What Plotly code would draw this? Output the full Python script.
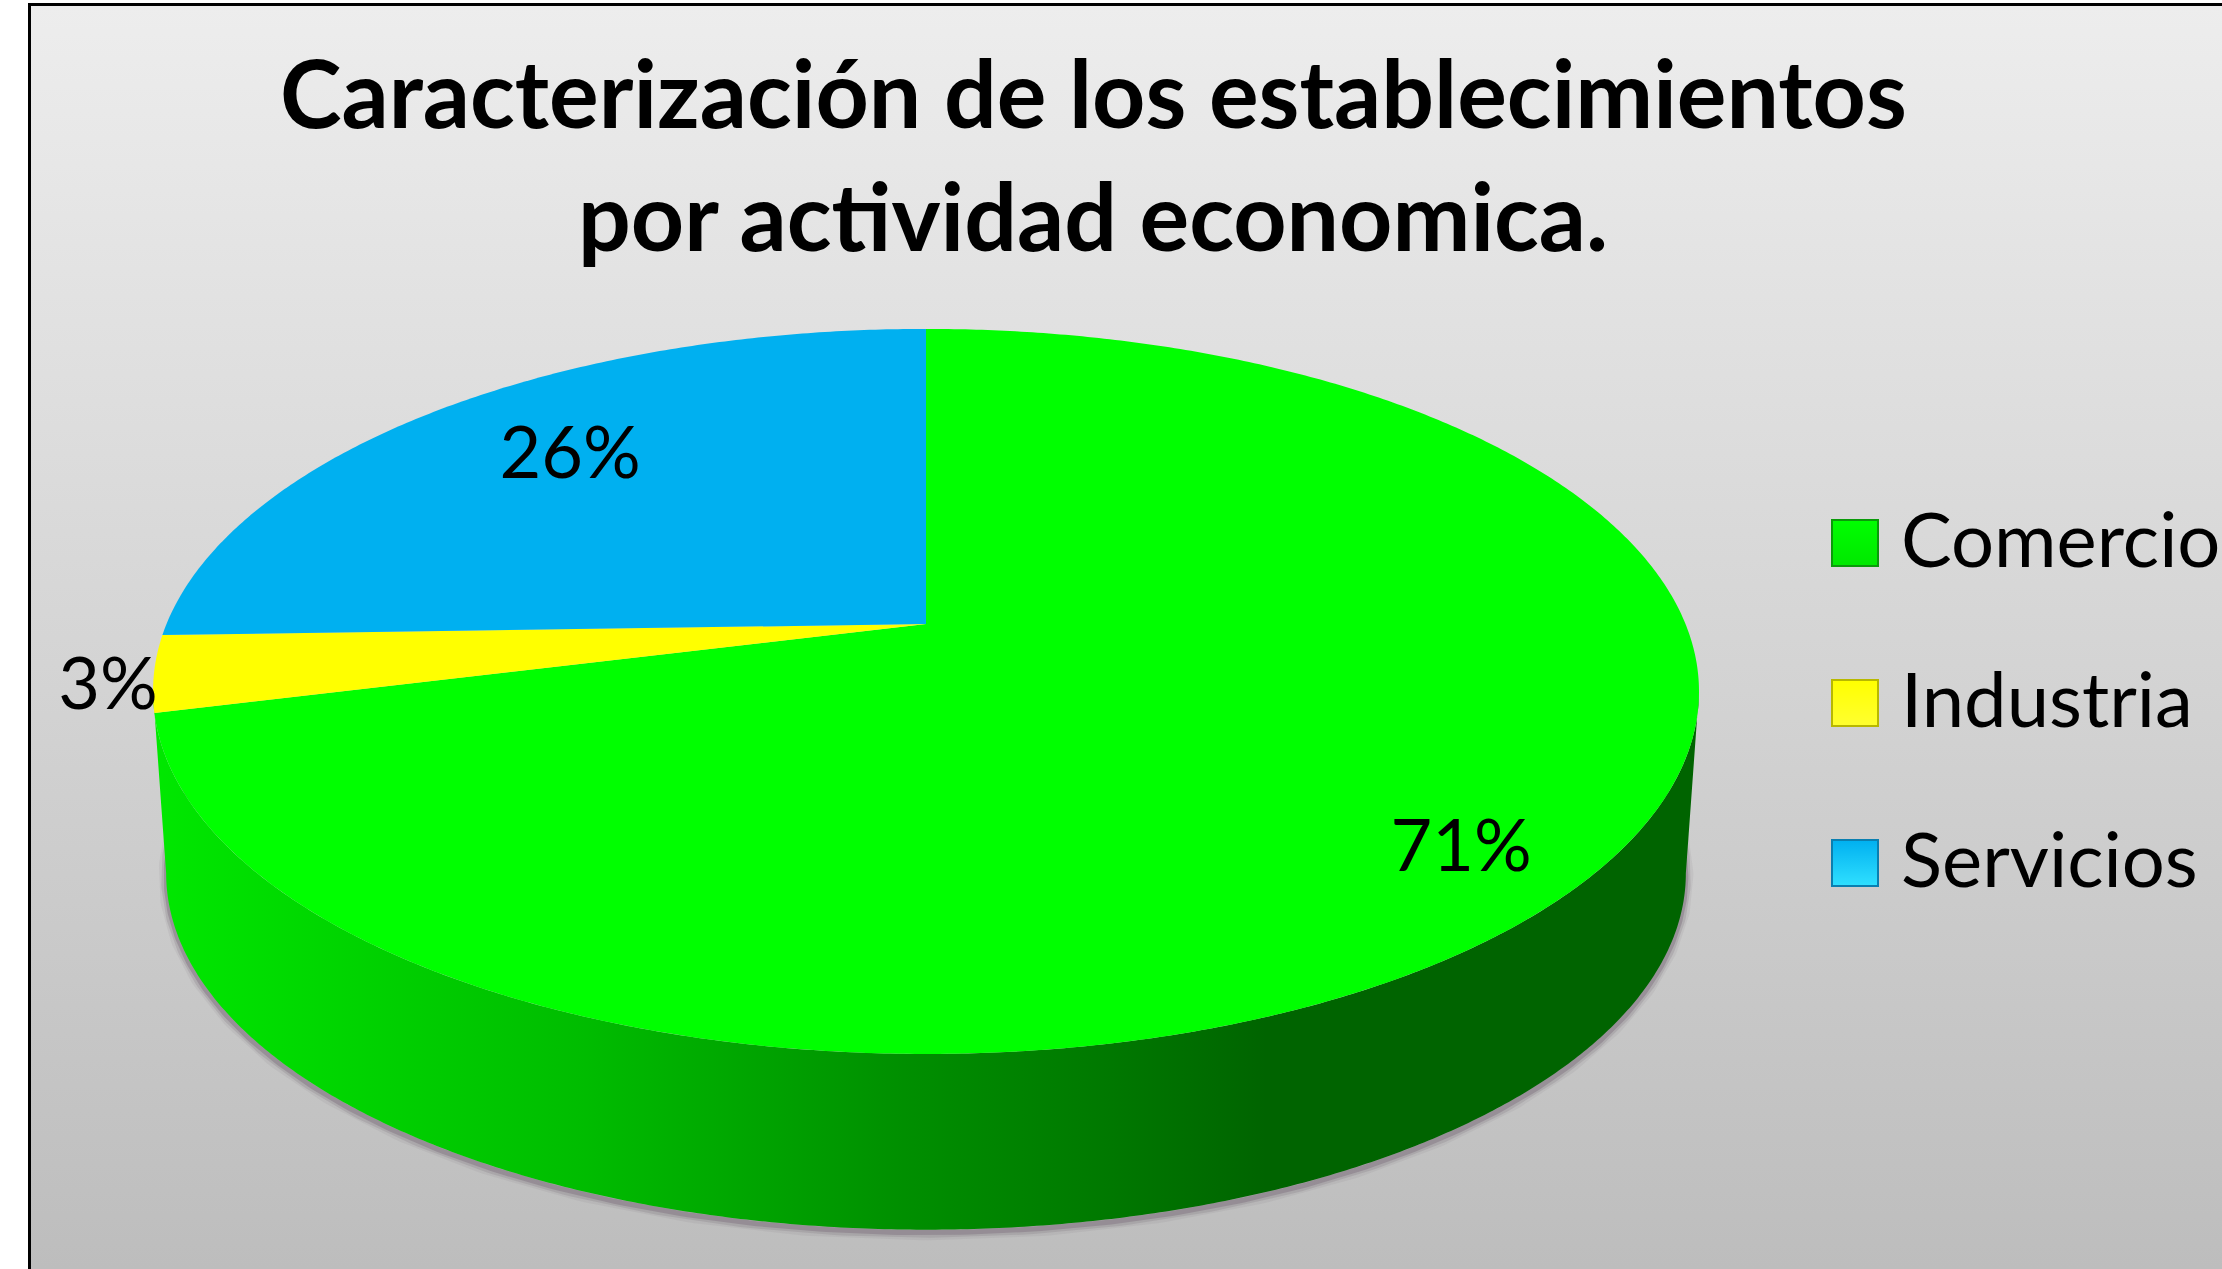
import numpy as np
import plotly.graph_objects as go

# chart data, clockwise from 12 o'clock
categories = ['Comercio', 'Industria', 'Servicios']
shares = [71.1, 3.4, 25.5]
slice_colours = ['#00FF00', '#FFFF00', '#00B0F0']
legend_edges = ['#0A9A0A', '#B8B800', '#0A7FB0']
legend_highlights = ['#00E800', '#FFFF30', '#30E0FF']
title_lines = ['Caracterización de los establecimientos', 'por actividad economica.']

WIDTH, HEIGHT = 2222, 1269
FONT = 'Lato'

# tilted disc: unit circle through a perspective map
CX, CY = 926, 624
A, B, P = 759.5, 350, 0.186
WALL_SCALE, WALL_DROP = 0.983, 183


def project(deg, radius=1.0, scale=1.0, drop=0.0):
    rad = np.radians(deg)
    u, v = radius * np.sin(rad), radius * np.cos(rad)
    w = 1 + P * v
    return CX + scale * A * u / w, CY - scale * B * v / w + drop


def slice_outline(start, end):
    deg = np.linspace(start, end, max(int(abs(end - start) * 2), 4))
    x, y = project(deg)
    return np.r_[CX, x, CX], np.r_[CY, y, CY]


fig = go.Figure()

# grey background panel inside the frame
fig.add_trace(go.Scatter(
    x=[31, WIDTH, WIDTH, 31, 31], y=[6, 6, HEIGHT, HEIGHT, 6],
    mode='none', fill='toself', hoverinfo='skip', showlegend=False,
    fillgradient=dict(type='vertical', start=6, stop=HEIGHT,
                      colorscale=[[0, '#EDEDED'], [1, '#BDBDBD']])))

# the front wall of the disc, and a soft shadow under it
edge = np.degrees(np.arccos(-P))
front = np.linspace(edge, 360 - edge, 400)
top_x, top_y = project(front)
low_x, low_y = project(front, scale=WALL_SCALE, drop=WALL_DROP)

# shadow runs on past the widest points, the wall hides its ends
shadow_x, shadow_y = project(np.linspace(edge - 20, 380 - edge, 400), scale=WALL_SCALE, drop=WALL_DROP)
for width, colour in [(15, 'rgba(120,110,120,0.10)'), (10, 'rgba(120,110,120,0.22)'),
                      (5, 'rgba(120,105,120,0.4)')]:
    fig.add_trace(go.Scatter(
        x=shadow_x, y=shadow_y + 3, mode='lines', hoverinfo='skip', showlegend=False,
        line=dict(color=colour, width=width)))

fig.add_trace(go.Scatter(
    x=np.r_[top_x, low_x[::-1], top_x[0]], y=np.r_[top_y, low_y[::-1], top_y[0]],
    mode='none', fill='toself', hoverinfo='skip', showlegend=False,
    fillgradient=dict(type='horizontal', start=153, stop=1699, colorscale=[
        [0, '#00E800'], [0.28, '#00BC00'], [0.48, '#009000'],
        [0.62, '#007800'], [0.72, '#006400'], [1, '#006400']])))

# top face, one trace per slice
start = 0
for name, share, colour in zip(categories, shares, slice_colours):
    end = start + share / sum(shares) * 360
    x, y = slice_outline(start, end)
    fig.add_trace(go.Scatter(
        x=x, y=y, mode='none', fill='toself', fillcolor=colour, name=name,
        showlegend=False, hovertemplate=f'{name}: {share:.0f}%<extra></extra>'))
    start = end

# percentage labels
fig.add_trace(go.Scatter(
    x=[1461, 108, 570], y=[853, 691, 460], mode='text',
    text=[f'{s:.0f}%' for s in shares], textposition='middle center',
    textfont=dict(family=FONT, size=72, color='black'),
    hoverinfo='skip', showlegend=False))

# hand made legend, big bevelled squares
for i, name in enumerate(categories):
    y = 543 + i * 160
    fig.add_trace(go.Scatter(
        x=[1855], y=[y], mode='markers', hoverinfo='skip', showlegend=False,
        marker=dict(symbol='square', size=46, color=slice_colours[i],
                    line=dict(color=legend_edges[i], width=2),
                    gradient=dict(type='vertical', color=legend_highlights[i]))))
    fig.add_annotation(x=1899, y=y - 6, text=name, showarrow=False, xanchor='left', yanchor='middle',
                       font=dict(family=FONT, size=76, color='black'))

for line, y in zip(title_lines, [92, 215]):
    fig.add_annotation(x=1093, y=y, text=f'<b>{line}</b>', showarrow=False, yanchor='middle',
                       font=dict(family=FONT, size=93, color='black'))

fig.update_layout(
    width=WIDTH, height=HEIGHT, autosize=False,
    margin=dict(l=0, r=0, t=0, b=0),
    paper_bgcolor='white', plot_bgcolor='white', showlegend=False,
    xaxis=dict(range=[0, WIDTH], visible=False, fixedrange=True),
    yaxis=dict(range=[HEIGHT, 0], visible=False, fixedrange=True),
    shapes=[
        dict(type='line', x0=29.5, x1=29.5, y0=3, y1=HEIGHT, line=dict(color='black', width=3)),
        dict(type='line', x0=28, x1=WIDTH, y0=4.5, y1=4.5, line=dict(color='black', width=3)),
    ])

# drop the default page margin so the chart sits at the window corner
fig.write_html('out.html', config={'displayModeBar': False},
               post_script='document.body.style.margin = "0";')
